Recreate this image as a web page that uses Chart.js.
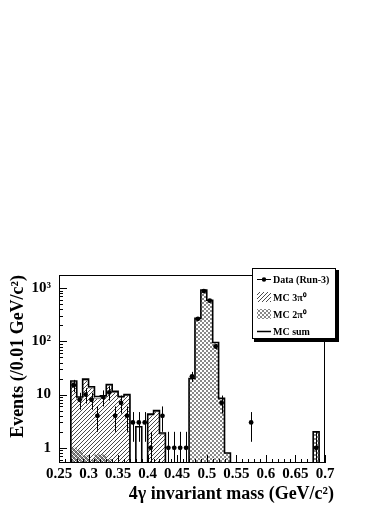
<!DOCTYPE html>
<html>
<head>
<meta charset="utf-8">
<title>4 gamma invariant mass</title>
<script src="https://cdn.jsdelivr.net/npm/chart.js@4.4.1/dist/chart.umd.min.js"></script>
<style>
    html, body { margin: 0; padding: 0; background: #fff; }
    #wrap { width: 390px; height: 505px; }
</style>
</head>
<body>
<div id="wrap"><canvas id="massChart" width="390" height="505"></canvas></div>
<script>
/* ----------------------------------------------------------------------------
                                     DATA
---------------------------------------------------------------------------- */
// lower edge of each 0.01 GeV/c^2 bin
var binEdges = [0.25, 0.26, 0.27, 0.28, 0.29, 0.30, 0.31, 0.32, 0.33, 0.34,
                0.35, 0.36, 0.37, 0.38, 0.39, 0.40, 0.41, 0.42, 0.43, 0.44,
                0.45, 0.46, 0.47, 0.48, 0.49, 0.50, 0.51, 0.52, 0.53, 0.54,
                0.55, 0.56, 0.57, 0.58, 0.59, 0.60, 0.61, 0.62, 0.63, 0.64,
                0.65, 0.66, 0.67, 0.68, 0.69];
var binWidth = 0.01;

var dataCounts = [0, 0, 15, 8, 10, 8, 4, 9, 11, 4,
                  7, 4, 3, 3, 3, 1, 0, 4, 1, 1,
                  1, 1, 22, 265, 880, 580, 80, 7, 0, 0,
                  0, 0, 3, 0, 0, 0, 0, 0, 0, 0,
                  0, 0, 0, 1, 0];
var dataErrors = [0, 0, 3.9, 2.8, 3.2, 2.8, 2, 3, 3.3, 2,
                  2.6, 2, 1.7, 1.7, 1.7, 1, 0, 2, 1, 1,
                  1, 1, 4.7, 16, 30, 24, 9, 2.6, 0, 0,
                  0, 0, 1.7, 0, 0, 0, 0, 0, 0, 0,
                  0, 0, 0, 1, 0];
var mc3pi0 = [0, 0, 17, 8.2, 18.6, 13.3, 8.4, 8.7, 14.8, 11,
              8.8, 9.6, 0, 0, 0, 4.1, 4.8, 1.8, 0, 0,
              0, 0, 0, 0, 0, 0, 0, 0, 0, 0,
              0, 0, 0, 0, 0, 0, 0, 0, 0, 0,
              0, 0, 0, 0, 0];
var mc2pi0 = [0, 0, 1.0, 0.9, 0.72, 0.6, 0.75, 0.75, 0.62, 0,
              0, 0, 0, 0, 0, 0, 0, 0, 0, 0,
              0, 0, 19.5, 265, 900, 580, 92, 8.3, 0.8, 0,
              0, 0, 0, 0, 0, 0, 0, 0, 0, 0,
              0, 0, 0, 2, 0];
var mcSum = [0, 0, 18, 9, 19.5, 14, 9.2, 9.5, 15.5, 11.5,
             9.2, 10, 0, 2.5, 0, 4.3, 5, 1.9, 0, 0,
             0, 0, 20, 270, 920, 590, 95, 8.5, 0.8, 0,
             0, 0, 0, 0, 0, 0, 0, 0, 0, 0,
             0, 0, 0, 2, 0];

var xTickLabels = ['0.25', '0.3', '0.35', '0.4', '0.45', '0.5', '0.55', '0.6', '0.65', '0.7'];
var yTickValues = [1, 10, 100, 1000];
var yTickLabels = ['1', '10', '10\u00B2', '10\u00B3'];

var xTitle = '4\u03B3 invariant mass (GeV/c\u00B2)';
var yTitle = 'Events (/0.01 GeV/c\u00B2)';

/* ----------------------------------------------------------------------------
                                    HELPERS
---------------------------------------------------------------------------- */
var serif = '"Liberation Serif", "Times New Roman", serif';
var yMin = 0.52, yMax = 1760;
var logFloor = 0.05;   // empty bins drawn below the axis (log scale drops zeros)

// points at the bin lower edges, plus the closing upper edge
function stepPoints(values) {
    var pts = [];
    for (var i = 0; i < binEdges.length; i++) {
        pts.push({ x: binEdges[i], y: values[i] > 0 ? values[i] : logFloor });
    }
    pts.push({ x: binEdges[binEdges.length - 1] + binWidth, y: logFloor });
    return pts;
}

function dataPoints() {
    var pts = [];
    for (var i = 0; i < binEdges.length; i++) {
        if (dataCounts[i] > 0) {
            pts.push({ x: binEdges[i] + binWidth / 2, y: dataCounts[i], err: dataErrors[i] });
        }
    }
    return pts;
}

function hatchPattern() {
    var c = document.createElement('canvas');
    c.width = 4; c.height = 4;
    var g = c.getContext('2d');
    g.fillStyle = '#4a4a4a';
    for (var i = 0; i < 4; i++) g.fillRect(i, 3 - i, 1, 1);
    return g.createPattern(c, 'repeat');
}

function checkerPattern() {
    var c = document.createElement('canvas');
    c.width = 4; c.height = 4;
    var g = c.getContext('2d');
    g.fillStyle = '#fff';
    g.fillRect(0, 0, 4, 4);
    g.fillStyle = '#888';
    g.fillRect(0, 0, 2, 2);
    g.fillRect(2, 2, 2, 2);
    return g.createPattern(c, 'repeat');
}

var hatch = hatchPattern();
var checker = checkerPattern();

/* ----------------------------------------------------------------------------
                                    PLUGINS
---------------------------------------------------------------------------- */
var errorBars = {
    id: 'errorBars',
    afterDatasetsDraw: function(chart) {
        var ctx = chart.ctx, xs = chart.scales.x, ys = chart.scales.y, a = chart.chartArea;
        ctx.save();
        ctx.beginPath();
        ctx.rect(a.left, a.top, a.right - a.left, a.bottom - a.top);
        ctx.clip();
        ctx.strokeStyle = '#000';
        ctx.lineWidth = 1;
        chart.data.datasets[0].data.forEach(function(p) {
            var px = Math.round(xs.getPixelForValue(p.x)) + 0.5;
            var lo = p.y - p.err;
            var yTop = ys.getPixelForValue(p.y + p.err);
            var yBot = lo > 0 ? ys.getPixelForValue(lo) : a.bottom + 2;
            ctx.beginPath();
            ctx.moveTo(px, yTop);
            ctx.lineTo(px, yBot);
            ctx.stroke();
        });
        ctx.restore();
    }
};

var frameAndTicks = {
    id: 'frameAndTicks',
    afterDatasetsDraw: function(chart) {
        var ctx = chart.ctx, xs = chart.scales.x, ys = chart.scales.y, a = chart.chartArea;
        ctx.save();
        ctx.strokeStyle = '#000';
        ctx.lineWidth = 1;
        ctx.strokeRect(a.left + 0.5, a.top + 0.5, a.right - a.left - 1, a.bottom - a.top - 1);

        ctx.beginPath();
        // x ticks: minor every 0.01, major every 0.05
        for (var k = 0; k <= 45; k++) {
            var px = Math.round(xs.getPixelForValue(0.25 + k * 0.01)) + 0.5;
            var len = (k % 5 === 0) ? 8 : 4;
            ctx.moveTo(px, a.bottom);
            ctx.lineTo(px, a.bottom - len);
        }
        // y ticks: log decades with 2..9 minors
        for (var d = -1; d <= 3; d++) {
            for (var m = 1; m <= 9; m++) {
                var v = m * Math.pow(10, d);
                if (v < ys.min || v > ys.max) continue;
                var py = Math.round(ys.getPixelForValue(v)) + 0.5;
                var l = (m === 1) ? 8 : 4;
                ctx.moveTo(a.left, py);
                ctx.lineTo(a.left + l, py);
            }
        }
        ctx.stroke();
        ctx.restore();
    }
};

var titlesAndLegend = {
    id: 'titlesAndLegend',
    afterDraw: function(chart) {
        var ctx = chart.ctx;
        ctx.save();
        ctx.fillStyle = '#000';

        // axis titles
        ctx.font = 'bold 18px ' + serif;
        ctx.textAlign = 'right';
        ctx.textBaseline = 'middle';
        ctx.fillText(xTitle, 334, 494);

        ctx.save();
        ctx.translate(18, 275);
        ctx.rotate(-Math.PI / 2);
        ctx.textAlign = 'right';
        ctx.fillText(yTitle, 0, 0);
        ctx.restore();

        // legend box with shadow
        var bx = 252, by = 268, bw = 84, bh = 71;
        ctx.fillStyle = '#000';
        ctx.fillRect(bx + 2, by + 2, bw + 1, bh + 1);
        ctx.fillStyle = '#fff';
        ctx.fillRect(bx, by, bw, bh);
        ctx.strokeStyle = '#000';
        ctx.lineWidth = 1;
        ctx.strokeRect(bx + 0.5, by + 0.5, bw - 1, bh - 1);

        var ds = chart.data.datasets;
        var rows = [
            { label: ds[0].label, kind: 'data', y: 279 },
            { label: ds[2].label, kind: 'hatch', y: 297 },
            { label: ds[3].label, kind: 'checker', y: 314 },
            { label: ds[1].label, kind: 'line', y: 331 }
        ];
        rows.forEach(function(r) {
            ctx.fillStyle = '#000';
            ctx.strokeStyle = '#000';
            if (r.kind === 'data' || r.kind === 'line') {
                ctx.lineWidth = r.kind === 'line' ? 1.5 : 1;
                ctx.beginPath();
                ctx.moveTo(257, r.y + 0.5);
                ctx.lineTo(271, r.y + 0.5);
                ctx.stroke();
                if (r.kind === 'data') {
                    ctx.beginPath();
                    ctx.arc(264, r.y + 0.5, 2.2, 0, Math.PI * 2);
                    ctx.fill();
                }
            } else {
                ctx.fillStyle = r.kind === 'hatch' ? hatch : checker;
                ctx.fillRect(257, r.y - 5, 14, 10);
            }
            ctx.fillStyle = '#000';
            ctx.font = 'bold 10px ' + serif;
            ctx.textAlign = 'left';
            ctx.textBaseline = 'middle';
            ctx.fillText(r.label, 273, r.y + 1);
        });
        ctx.restore();
    }
};

/* ----------------------------------------------------------------------------
                                    CHART
---------------------------------------------------------------------------- */
var ctx_mass = document.getElementById('massChart').getContext('2d');

var chartMass = new Chart(ctx_mass, {
    type: 'line',
    data: {
        datasets: [{
            label: 'Data (Run-3)',
            data: dataPoints(),
            showLine: false,
            pointRadius: 2.4,
            pointBackgroundColor: '#000',
            pointBorderWidth: 0,
            order: 0
        }, {
            label: 'MC sum',
            data: stepPoints(mcSum),
            stepped: 'before',
            borderColor: '#000',
            borderWidth: 1.6,
            pointRadius: 0,
            fill: false,
            order: 1
        }, {
            label: 'MC 3\u03C0\u2070',
            data: stepPoints(mc3pi0),
            stepped: 'before',
            borderColor: '#8a8a8a',
            borderWidth: 1,
            backgroundColor: hatch,
            fill: 'start',
            pointRadius: 0,
            order: 2
        }, {
            label: 'MC 2\u03C0\u2070',
            data: stepPoints(mc2pi0),
            stepped: 'before',
            borderColor: 'rgba(0,0,0,0)',
            borderWidth: 0,
            backgroundColor: checker,
            fill: 'start',
            pointRadius: 0,
            order: 3
        }]
    },
    options: {
        responsive: false,
        animation: false,
        devicePixelRatio: 1,
        layout: {
            padding: { top: 275, right: 65, bottom: 0, left: 0 }
        },
        plugins: {
            legend: { display: false },
            tooltip: { enabled: false },
            title: { display: false }
        },
        scales: {
            x: {
                type: 'linear',
                min: 0.25,
                max: 0.7,
                grid: { display: false, drawTicks: false },
                border: { display: false },
                afterFit: function(scale) { scale.height = 42; },
                ticks: {
                    stepSize: 0.05,
                    autoSkip: false,
                    maxRotation: 0,
                    padding: 2,
                    color: '#000',
                    font: { family: serif, size: 15, weight: 'bold' },
                    callback: function(value) {
                        var idx = Math.round((value - 0.25) / 0.05);
                        return xTickLabels[idx] || '';
                    }
                }
            },
            y: {
                type: 'logarithmic',
                min: yMin,
                max: yMax,
                grid: { display: false, drawTicks: false },
                border: { display: false },
                afterFit: function(scale) { scale.width = 59; },
                ticks: {
                    autoSkip: false,
                    padding: 8,
                    color: '#000',
                    font: { family: serif, size: 15, weight: 'bold' },
                    callback: function(value) {
                        for (var i = 0; i < yTickValues.length; i++) {
                            if (Math.abs(value - yTickValues[i]) < 1e-6 * yTickValues[i]) return yTickLabels[i];
                        }
                        return '';
                    }
                },
                afterBuildTicks: function(scale) {
                    scale.ticks = yTickValues.map(function(v) { return { value: v }; });
                }
            }
        }
    },
    plugins: [errorBars, frameAndTicks, titlesAndLegend]
});
</script>
</body>
</html>
